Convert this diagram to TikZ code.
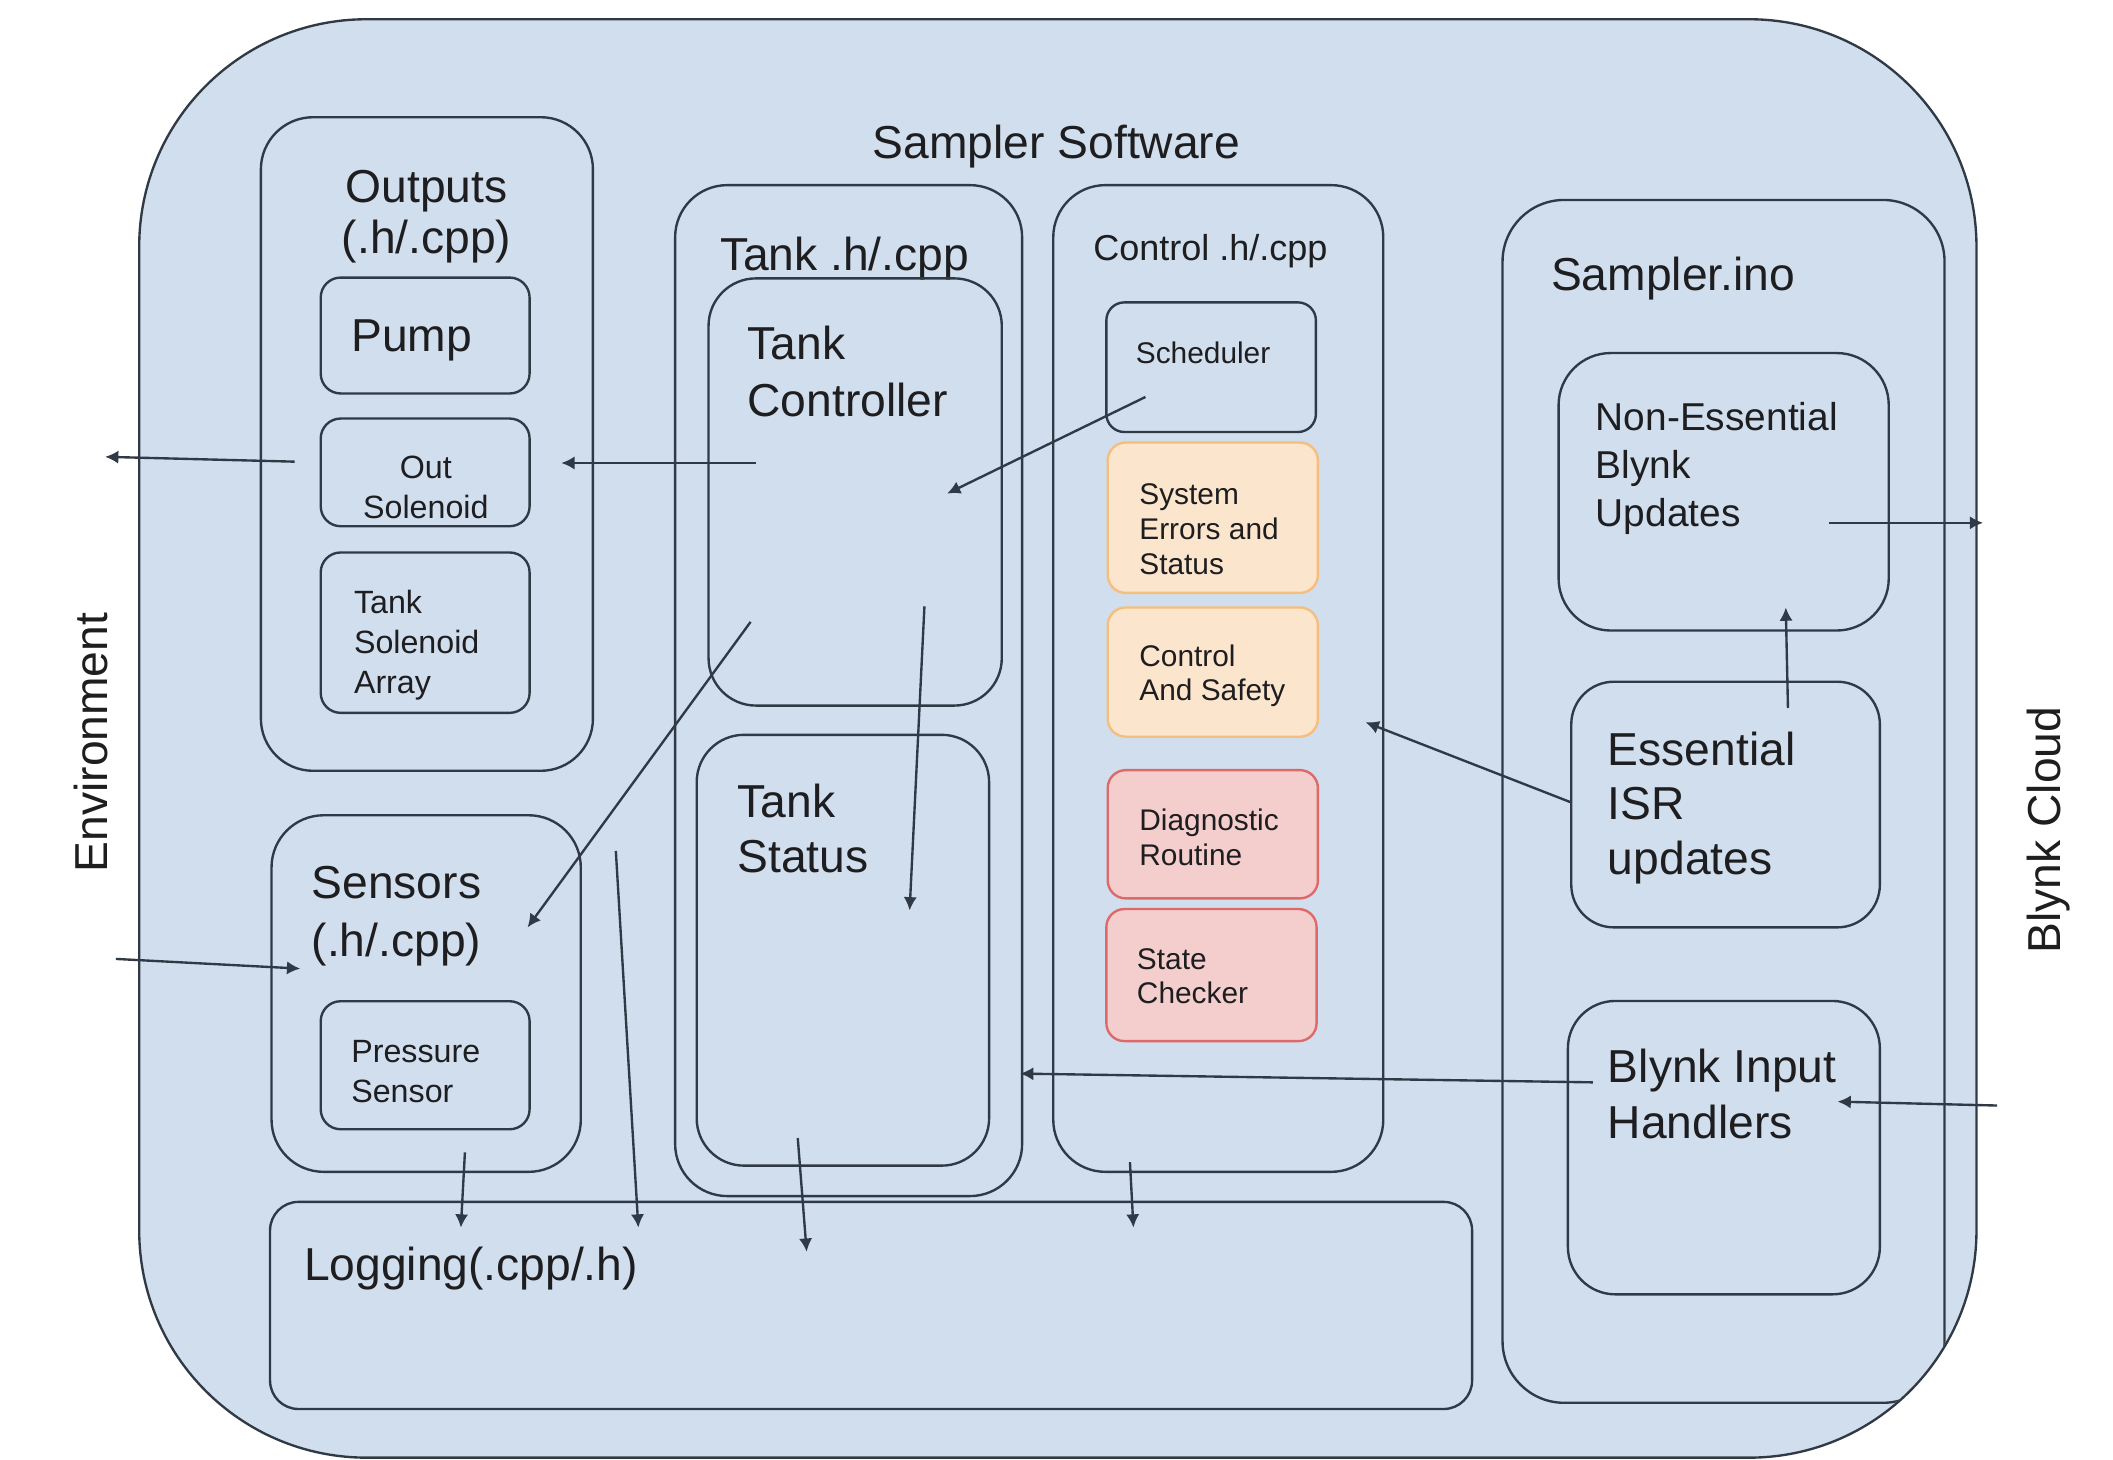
\documentclass[tikz,border=0pt]{standalone}
\usepackage{fontspec}
\setmainfont{Liberation Sans}
\usetikzlibrary{fit,arrows.meta}
\definecolor{bgblue}{RGB}{209,222,238}
\definecolor{edge}{RGB}{48,58,70}
\definecolor{ofill}{RGB}{252,229,205}
\definecolor{oedge}{RGB}{245,190,125}
\definecolor{pfill}{RGB}{244,205,205}
\definecolor{pedge}{RGB}{222,105,105}
\definecolor{ink}{RGB}{30,30,32}
\begin{document}
\begin{tikzpicture}[x=0.01cm,y=-0.01cm,
  box/.style={draw=edge, line width=0.5pt, inner sep=0pt},
  obox/.style={box, draw=oedge, fill=ofill, rounded corners=3.8pt},
  pbox/.style={box, draw=pedge, fill=pfill, rounded corners=3.8pt},
  sbox/.style={box, rounded corners=4.2pt},
  arr/.style={draw=edge, line width=0.5pt, -{Latex[length=2.8pt,width=2.8pt]}},
  txt/.style={text=ink, inner sep=0pt, align=left, anchor=base west},
  tL/.style={txt, font=\fontsize{9.75pt}{11.66pt}\selectfont},
  tM/.style={txt, font=\fontsize{8.2pt}{10.1pt}\selectfont},
  tC/.style={txt, font=\fontsize{7.6pt}{9pt}\selectfont},
  tS/.style={txt, font=\fontsize{6.8pt}{8.45pt}\selectfont},
  tXS/.style={txt, font=\fontsize{6.3pt}{7.3pt}\selectfont},
]
\useasboundingbox (0,0) rectangle (1568,1083);
\fill[white] (0,0) rectangle (1568,1083);

% outer software box (fill first, border drawn after the clipped contents)
\node[inner sep=0pt, fill=bgblue, rounded corners=48pt, fit={(104,15) (1466,1081)}] (sw) {};
\node[tL] (swl) at (647,118) {Sampler Software};

\begin{scope}
\clip[rounded corners=48pt] (104,15) rectangle (1466,1081);

% Outputs (multi-line nodes are placed by the baseline of their last line)
\node[box, rounded corners=11pt, fit={(193.6,87) (440,572)}] (outputs) {};
\node[tL, anchor=base, align=center, font=\fontsize{9.75pt}{10.8pt}\selectfont] (outputsl) at (316.5,188) {Outputs\\(.h/.cpp)};
\node[sbox, fit={(238,206) (393,292)}] (pump) {};
\node[tL] (pumpl) at (260,261) {Pump};
\node[sbox, fit={(238,310.6) (393,390.5)}] (outsol) {};
\node[tS, anchor=base, align=center] (outsoll) at (316,385) {Out\\Solenoid};
\node[sbox, fit={(238,410) (393,529)}] (tsa) {};
\node[tS] (tsal) at (262,515) {Tank\\Solenoid\\Array};

% Sensors
\node[box, rounded corners=11pt, fit={(201.5,605) (431,869.6)}] (sensors) {};
\node[tL, font=\fontsize{9.75pt}{12.2pt}\selectfont] (sensorsl) at (230.6,709.7) {Sensors\\(.h/.cpp)};
\node[sbox, fit={(238,743) (393,838)}] (press) {};
\node[tS] (pressl) at (260,818.3) {Pressure\\Sensor};

% Tank
\node[box, rounded corners=11pt, fit={(501,137.4) (758.5,887.6)}] (tank) {};
\node[tL] (tankl) at (533.6,200.6) {Tank .h/.cpp};
\node[box, rounded corners=10pt, fit={(525.8,206.6) (743.4,523.6)}] (tctrl) {};
\node[tL, font=\fontsize{9.75pt}{12pt}\selectfont] (tctrll) at (554,309.3) {Tank\\Controller};
\node[box, rounded corners=10pt, fit={(517,545.3) (734,865)}] (tstat) {};
\node[tL] (tstatl) at (546.6,647.6) {Tank\\Status};

% Control
\node[box, rounded corners=11pt, fit={(781.6,137.4) (1026.5,869.6)}] (ctrl) {};
\node[tC] (ctrll) at (810.6,193.5) {Control .h/.cpp};
\node[sbox, rounded corners=3.8pt, fit={(821,224.4) (976.5,320.6)}] (sched) {};
\node[tXS] (schedl) at (842.2,269.8) {Scheduler};
\node[obox, fit={(822,328.4) (978,440)}] (syserr) {};
\node[tXS] (syserrl) at (844.8,426) {System\\Errors and\\Status};
\node[obox, fit={(822,450.8) (978,546.7)}] (cas) {};
\node[tXS] (casl) at (844.8,520) {Control\\And Safety};
\node[pbox, fit={(822,571.5) (978,666.7)}] (diag) {};
\node[tXS] (diagl) at (844.8,642.2) {Diagnostic\\Routine};
\node[pbox, fit={(821,674.6) (977,772.6)}] (state) {};
\node[tXS] (statel) at (843,745) {State\\Checker};

% Sampler.ino
\node[box, rounded corners=13pt, fit={(1115,148.4) (1443,1041)}] (ino) {};
\node[tL] (inol) at (1150.3,215.8) {Sampler.ino};
\node[box, rounded corners=11pt, fit={(1156.6,262) (1401.6,467.9)}] (noness) {};
\node[tM] (nonessl) at (1183.5,390.5) {Non-Essential\\Blynk\\Updates};
\node[box, rounded corners=9pt, fit={(1166,505.9) (1395,688.2)}] (ess) {};
\node[tL, font=\fontsize{9.75pt}{11.5pt}\selectfont] (essl) at (1192.5,648.7) {Essential\\ISR\\updates};
\node[box, rounded corners=10pt, fit={(1163.5,742.8) (1395,960.5)}] (binput) {};
\node[tL] (binputl) at (1192.5,844.5) {Blynk Input\\Handlers};

% Logging
\node[box, rounded corners=6pt, fit={(200.4,891.9) (1092.4,1045.6)}] (logging) {};
\node[tL] (loggingl) at (224.9,950.4) {Logging(.cpp/.h)};
\end{scope}
% outer border
\draw[draw=edge, line width=0.5pt, rounded corners=48pt] (sw.north west) rectangle (sw.south east);

% outside labels
\node[tL, rotate=90, anchor=base] (env) at (80,551) {Environment};
\node[tL, rotate=90, anchor=base] (cloud) at (1529,616) {Blynk Cloud};

% arrow end points
\coordinate (envoutS) at (218.6,342.6);   \coordinate (envoutE) at (78,339);
\coordinate (tcosS) at (561,343.6);       \coordinate (tcosE) at (416.5,343.6);
\coordinate (schtcS) at (850,294.6);      \coordinate (schtcE) at (702.8,366.3);
\coordinate (tcsenS) at (557,461.5);      \coordinate (tcsenE) at (391.5,688.2);
\coordinate (tctsS) at (686,450);         \coordinate (tctsE) at (675,675.6);
\coordinate (envsenS) at (86,711.6);      \coordinate (envsenE) at (222.8,718.8);
\coordinate (xlogS) at (457,631.5);       \coordinate (xlogE) at (473.7,911);
\coordinate (senlogS) at (345,855.2);     \coordinate (senlogE) at (342,911);
\coordinate (tslogS) at (592,844.5);      \coordinate (tslogE) at (598.6,928.9);
\coordinate (ctllogS) at (838.5,862.4);   \coordinate (ctllogE) at (841.1,911);
\coordinate (bitankS) at (1182,803.2);    \coordinate (bitankE) at (757,796.7);
\coordinate (cloudbiS) at (1482,820.4);   \coordinate (cloudbiE) at (1363.6,817.5);
\coordinate (essctlS) at (1166,595.5);    \coordinate (essctlE) at (1013.4,536);
\coordinate (essneS) at (1326.8,525.4);   \coordinate (essneE) at (1325.2,450.8);
\coordinate (necloudS) at (1357.3,388);   \coordinate (necloudE) at (1471.6,388);

\draw[arr] (envoutS) -- (envoutE);
\draw[arr] (tcosS) -- (tcosE);
\draw[arr] (schtcS) -- (schtcE);
\draw[arr] (tcsenS) -- (tcsenE);
\draw[arr] (tctsS) -- (tctsE);
\draw[arr] (envsenS) -- (envsenE);
\draw[arr] (xlogS) -- (xlogE);
\draw[arr] (senlogS) -- (senlogE);
\draw[arr] (tslogS) -- (tslogE);
\draw[arr] (ctllogS) -- (ctllogE);
\draw[arr] (bitankS) -- (bitankE);
\draw[arr] (cloudbiS) -- (cloudbiE);
\draw[arr] (essctlS) -- (essctlE);
\draw[arr] (essneS) -- (essneE);
\draw[arr] (necloudS) -- (necloudE);
\end{tikzpicture}
\end{document}
